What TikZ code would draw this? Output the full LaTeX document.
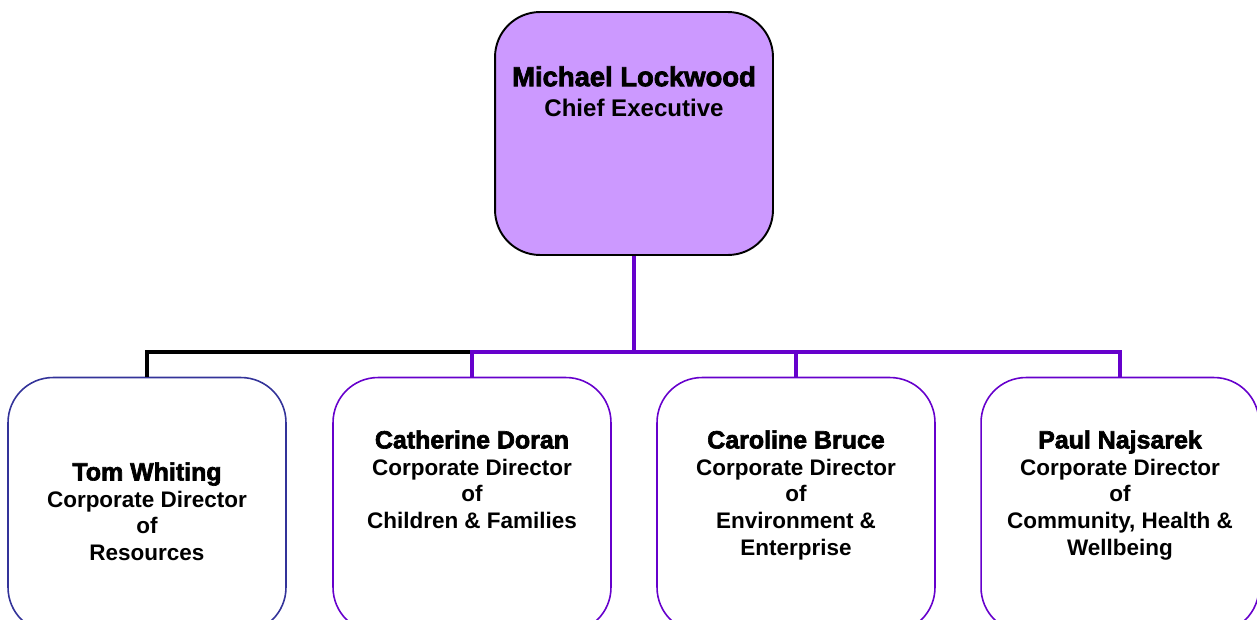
\documentclass[tikz,border=0pt]{standalone}
\usepackage{fontspec}
\setmainfont{Liberation Sans}
\newfontfamily\namefont{Liberation Sans}[BoldFeatures={FakeBold=2.6}]

\definecolor{lilac}{HTML}{CC99FF}
\definecolor{violet}{HTML}{6600CC}
\definecolor{navy}{HTML}{333399}

% names are set heavier than the job titles
\newcommand{\officer}[1]{{\namefont\bfseries\fontsize{14.2}{16}\selectfont #1}}

\begin{document}
\begin{tikzpicture}[x=0.02cm, y=-0.02cm,
    post/.style={rectangle, rounded corners=0.9cm, minimum width=5.56cm, minimum height=5.1cm, line width=0.9pt, draw=violet, fill=white},
    title/.style={anchor=north, inner sep=0pt, align=center, font=\bfseries\fontsize{12.8}{15.2}\selectfont},
    link/.style={line width=2.8pt, violet}]
    \useasboundingbox (0,0) rectangle (1257,619);
    \clip (0,0) rectangle (1257,619);

    % chief executive
    \node[post, draw=black, line width=1.1pt, fill=lilac, minimum height=4.86cm] (chief) at (634,133.5) {};
    \node[title, font=\bfseries\fontsize{13.7}{17}\selectfont] (chieftext) at (634,66) {\officer{\fontsize{15.6}{18}\selectfont Michael Lockwood}\\ Chief Executive};

    % corporate directors
    \node[post, draw=navy] (resources) at (147,505) {};
    \node[post] (children) at (472,505) {};
    \node[post] (environment) at (796,505) {};
    \node[post] (community) at (1120,505) {};

    \node[title] (resourcestext) at (147,462) {\officer{Tom Whiting}\\ Corporate Director\\ of\\ Resources};
    \node[title] (childrentext) at (472,430) {\officer{Catherine Doran}\\ Corporate Director\\ of\\ Children \& Families};
    \node[title] (environmenttext) at (796,430) {\officer{Caroline Bruce}\\ Corporate Director\\ of\\ Environment \&\\ Enterprise};
    \node[title] (communitytext) at (1120,430) {\officer{Paul Najsarek}\\ Corporate Director\\ of\\ Community, Health \&\\ Wellbeing};

    % reporting lines
    \coordinate (bus) at (634,352);
    \draw[link, black] (resources.north) |- (children.north |- bus);
    \draw[link] (chief.south) -- (bus);
    \draw[link] (children.north) -- (children.north |- bus) -- (community.north |- bus) -- (community.north);
    \draw[link] (environment.north) -- (environment.north |- bus);
\end{tikzpicture}
\end{document}
